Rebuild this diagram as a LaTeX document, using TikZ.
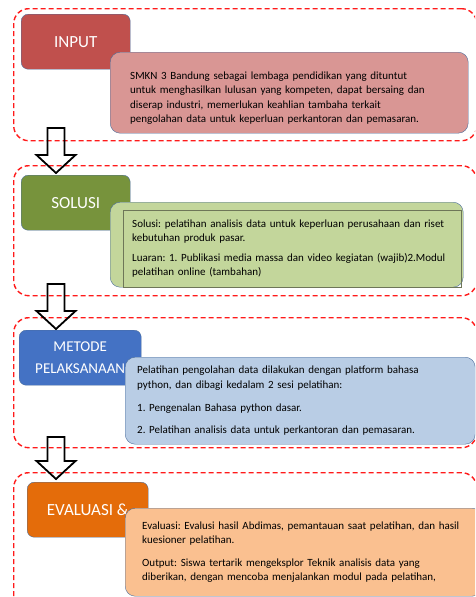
\documentclass[tikz,border=0pt]{standalone}
\usepackage{fontspec}
\setmainfont{Carlito}
\usetikzlibrary{positioning}
\definecolor{dashred}{HTML}{FF1A1A}
\definecolor{edge}{HTML}{4A6C9B}
\definecolor{inred}{HTML}{C0504D}
\definecolor{inpink}{HTML}{D99694}
\definecolor{solgreen}{HTML}{77933C}
\definecolor{sollight}{HTML}{C3D69B}
\definecolor{solline}{HTML}{6E7658}
\definecolor{metblue}{HTML}{4472C4}
\definecolor{metlight}{HTML}{B9CDE5}
\definecolor{evorange}{HTML}{E46C0A}
\definecolor{evlight}{HTML}{FAC090}
\frenchspacing

\begin{document}
\begin{tikzpicture}[x=1pt,y=-1pt,
  grp/.style={draw=dashred,line width=1.4pt,dash pattern=on 5pt off 3pt,rounded corners=15pt,anchor=north west,minimum width=463pt,inner sep=0pt},
  lab/.style={draw=edge,rounded corners=7pt,text=white,font=\fontsize{17}{22}\selectfont,align=center,anchor=north west,inner sep=0pt,minimum height=55pt},
  info/.style={draw=edge,rounded corners=10pt,anchor=north west,inner sep=0pt,text width=#1,align=left,font=\fontsize{11}{14.5}\selectfont},
  hollow/.style={draw=black,line width=1.8pt,line join=miter}]
\useasboundingbox (0,0) rectangle (475,597);
\clip (0,0) rectangle (475,597);

% dashed groups
\node[grp,minimum height=132pt] (g1) at (13,8) {};
\node[grp,minimum height=130pt] (g2) at (13,165) {};
\node[grp,minimum height=130pt] (g3) at (13,317) {};
\node[grp,minimum height=150pt] (g4) at (13,472) {};

% block arrows between the groups
\foreach \top/\tip in {128/173, 284/329, 437/479}
  \draw[hollow] (47.5,\top) -- (64.5,\top) -- (64.5,\tip-18) -- (75.5,\tip-18) -- (56,\tip)
    -- (36.5,\tip-18) -- (47.5,\tip-18) -- cycle;

% INPUT
\node[lab,fill=inred,minimum width=109pt] (input) at (21,14) {INPUT};
\node[info=318pt,fill=inpink,minimum width=348pt,minimum height=81pt,inner xsep=20pt] (inputtxt) at (110,52)
  {\rule{0pt}{18pt}SMKN 3 Bandung sebagai lembaga pendidikan yang dituntut\\
   untuk menghasilkan lulusan yang kompeten, dapat bersaing dan\\
   diserap industri, memerlukan keahlian tambaha terkait\\
   pengolahan data untuk keperluan perkantoran dan pemasaran.};

% SOLUSI
\node[lab,fill=solgreen,minimum width=109pt] (solusi) at (21,175) {SOLUSI};
\node[draw=edge,fill=sollight,rounded corners=10pt,anchor=north west,minimum width=353pt,minimum height=85pt] (solbox) at (110,202) {};
\node[draw=solline,anchor=north west,minimum width=338pt,minimum height=77pt,inner xsep=9pt,text width=320pt,align=left,
  font=\fontsize{11}{14.5}\selectfont] (soltxt) at (123,210)
  {Solusi: pelatihan analisis data untuk keperluan perusahaan dan riset\\
   kebutuhan produk pasar.\\[5pt]
   Luaran: 1. Publikasi media massa dan video kegiatan (wajib)2.Modul\\
   pelatihan online (tambahan)};

% METODE PELAKSANAAN
\node[lab,fill=metblue,minimum width=122pt,font=\fontsize{15}{22}\selectfont] (metode) at (19,330) {METODE\\PELAKSANAAN};
\node[info=326pt,fill=metlight,minimum width=340pt,minimum height=87pt,inner xsep=12pt] (metodetxt) at (125,357)
  {Pelatihan pengolahan data dilakukan dengan platform bahasa\\
   python, dan dibagi kedalam 2 sesi pelatihan:\\[9pt]
   1. Pengenalan Bahasa python dasar.\\[7pt]
   2. Pelatihan analisis data untuk perkantoran dan pemasaran.};

% EVALUASI
\node[lab,fill=evorange,minimum width=121pt] (evaluasi) at (27,482) {EVALUASI \&};
\node[info=323pt,fill=evlight,minimum width=340pt,minimum height=88pt,inner xsep=17pt] (evaluasitxt) at (125,508)
  {Evaluasi: Evalusi hasil Abdimas, pemantauan saat pelatihan, dan hasil\\
   kuesioner pelatihan.\\[8pt]
   Output: Siswa tertarik mengeksplor Teknik analisis data yang\\
   diberikan, dengan mencoba menjalankan modul pada pelatihan,};
\end{tikzpicture}
\end{document}
